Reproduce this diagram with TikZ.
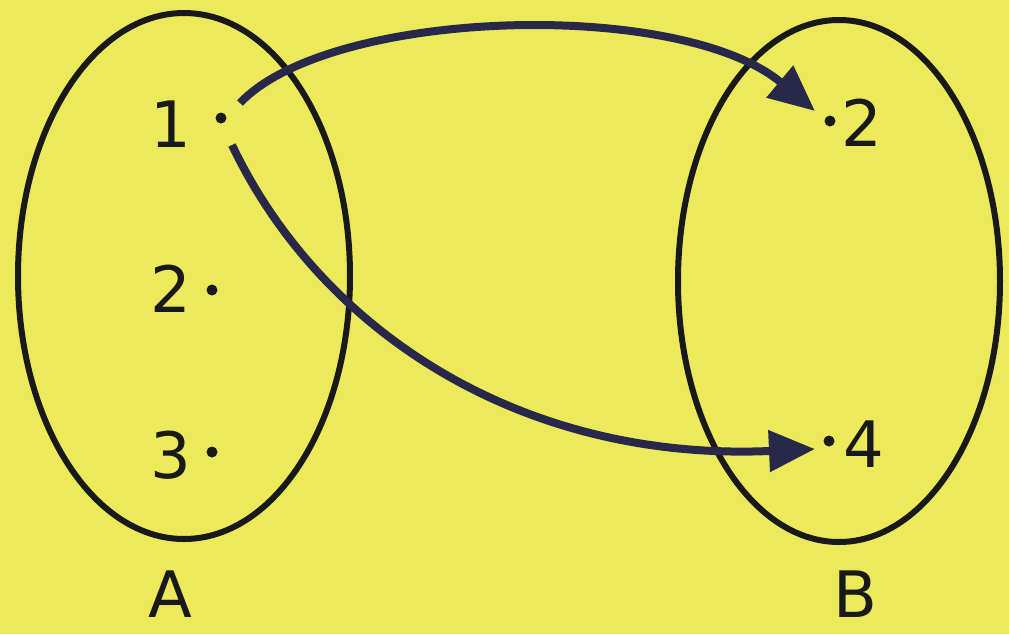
\documentclass[tikz,border=0pt]{standalone}
\usepackage{fontspec}
\setmainfont{DejaVu Sans}
\usetikzlibrary{arrows.meta}
\definecolor{bg}{RGB}{236,234,90}
\definecolor{ink}{RGB}{25,25,25}
\definecolor{navy}{RGB}{40,40,75}
\tikzset{
  setellipse/.style={draw=ink,line width=3pt},
  lbl/.style={font=\fontsize{32}{34}\selectfont,text=ink,inner sep=0pt},
  dotnode/.style={circle,fill=ink,inner sep=0pt,minimum size=5.5pt},
  maparrow/.style={draw=navy,line width=4pt,-{Triangle[length=23pt,width=20pt]}}
}
\begin{document}
\begin{tikzpicture}[x=0.5pt,y=-0.5pt]
\fill[bg] (0,0) rectangle (1009,634);
\useasboundingbox (0,0) rectangle (1009,634);
% sets
\draw[setellipse] (184,276) ellipse [x radius=166,y radius=263];
\draw[setellipse] (839,281) ellipse [x radius=161,y radius=261];
% domain elements
\node[lbl] (l1) at (171,124) {1};
\node[dotnode] (d1) at (221,118) {};
\node[lbl] (l2) at (171,289) {2};
\node[dotnode] (d2) at (212,290) {};
\node[lbl] (l3) at (171,455) {3};
\node[dotnode] (d3) at (212,452) {};
% codomain elements
\node[dotnode] (e2) at (830,121) {};
\node[lbl] (m2) at (862,123) {2};
\node[dotnode] (e4) at (829,441) {};
\node[lbl] (m4) at (864,444) {4};
% set names
\node[lbl] (A) at (170,594) {A};
\node[lbl] (B) at (855,594) {B};
% arrows
\coordinate (s1) at (240,103);
\coordinate (t1) at (815,111);
\coordinate (s2) at (232,145);
\coordinate (t2) at (815,449);
\draw[maparrow] (s1) .. controls (330,8) and (680,-2) .. (t1);
\draw[maparrow] (s2) .. controls (320,330) and (520,462) .. (t2);
\end{tikzpicture}
\end{document}
